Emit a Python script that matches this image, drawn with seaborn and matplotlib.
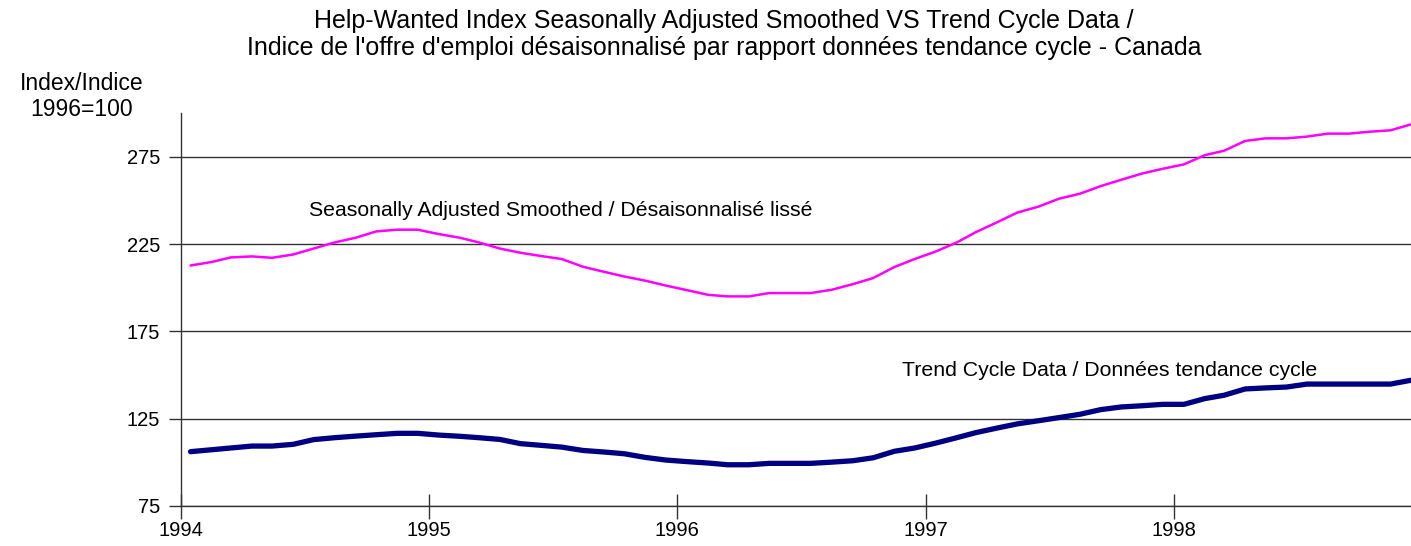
"""
plot.py - Help-Wanted Index, seasonally adjusted smoothed vs trend cycle (Canada).
"""

import pandas as pd
import seaborn as sns
import matplotlib.pyplot as plt

# monthly values, Jan 1994 .. Dec 1998 (index 1996=100)
start_month = "1994-01"
n_months = 60

sa_smoothed = [
    212.7, 214.7, 217.3, 217.9, 217.1, 219.0, 222.4, 225.9, 228.6, 232.2, 233.2, 233.2,
    230.7, 228.6, 225.9, 222.4, 220.0, 218.1, 216.4, 212.0, 209.1, 206.4, 204.0, 201.2,
    198.6, 195.9, 195.0, 195.0, 196.9, 196.9, 196.9, 198.8, 202.0, 205.5, 211.8, 216.4,
    220.7, 225.9, 231.8, 237.4, 243.0, 246.4, 250.9, 253.8, 258.2, 261.8, 265.4, 268.1,
    270.6, 275.9, 278.4, 284.0, 285.5, 285.5, 286.5, 288.2, 288.2, 289.3, 290.1, 293.5,
]

trend_cycle = [
    106.1, 107.2, 108.2, 109.3, 109.3, 110.3, 113.0, 114.1, 115.0, 115.8, 116.6, 116.6,
    115.6, 114.9, 114.1, 113.1, 110.7, 109.7, 108.7, 106.8, 105.9, 104.9, 102.8, 101.3,
    100.4, 99.6, 98.6, 98.6, 99.4, 99.4, 99.4, 100.1, 100.9, 102.6, 106.3, 108.2,
    111.0, 114.1, 117.0, 119.6, 122.0, 123.8, 125.6, 127.5, 130.2, 131.7, 132.4, 133.2,
    133.2, 136.5, 138.4, 142.0, 142.6, 143.1, 144.8, 144.8, 144.8, 144.8, 144.8, 147.0,
]

year_ticks = [1994, 1995, 1996, 1997, 1998]
y_ticks = [75, 125, 175, 225, 275]

title = ("Help-Wanted Index Seasonally Adjusted Smoothed VS Trend Cycle Data /\n"
         "Indice de l'offre d'emploi désaisonnalisé par rapport données tendance cycle - Canada")
y_label = "Index/Indice\n1996=100"
sa_label = "Seasonally Adjusted Smoothed / Désaisonnalisé lissé"
trend_label = "Trend Cycle Data / Données tendance cycle"


def main():
    sns.set_style("white")
    plt.rcParams['font.family'] = ['Liberation Sans', 'DejaVu Sans']
    plt.rcParams['text.color'] = 'black'
    plt.rcParams['xtick.labelcolor'] = 'black'
    plt.rcParams['ytick.labelcolor'] = 'black'

    # points sit in the middle of each month (category-style axis)
    dates = pd.date_range(start_month, periods=n_months, freq="MS") + pd.Timedelta(days=14)
    df = pd.DataFrame({"date": dates, "sa": sa_smoothed, "trend": trend_cycle})

    fig, ax = plt.subplots(figsize=(14.11, 5.46), dpi=100)
    fig.subplots_adjust(left=0.1283, right=1.0, bottom=0.0733, top=0.793)

    sns.lineplot(data=df, x="date", y="sa", color="#FF00FF", linewidth=1.8, ax=ax)
    sns.lineplot(data=df, x="date", y="trend", color="#000080", linewidth=3.8,
                 solid_joinstyle="round", solid_capstyle="round", ax=ax)

    ax.set_xlim(pd.Timestamp(f"{year_ticks[0]}-01-01"), dates[-1])
    ax.set_ylim(75, 300)
    ax.set_xticks([pd.Timestamp(f"{y}-01-01") for y in year_ticks])
    ax.set_xticklabels([str(y) for y in year_ticks])
    ax.set_yticks(y_ticks)
    ax.set_xlabel("")
    ax.set_ylabel("")

    ax.yaxis.grid(True, color="#333333", linewidth=1.0)
    ax.xaxis.grid(False)
    for side in ["top", "right"]:
        ax.spines[side].set_visible(False)
    for side in ["left", "bottom"]:
        ax.spines[side].set_color("#333333")
        ax.spines[side].set_linewidth(1.0)

    ax.tick_params(axis="x", direction="inout", length=18, width=1, color="#333333",
                   labelsize=14.5, pad=2, bottom=True)
    ax.tick_params(axis="y", direction="out", length=9, width=1, color="#333333",
                   labelsize=14.5, pad=6, left=True)

    ax.text(0.104, 0.753, sa_label, transform=ax.transAxes, fontsize=15.3,
            va="center", ha="left")
    ax.text(0.586, 0.344, trend_label, transform=ax.transAxes, fontsize=15.3,
            va="center", ha="left")

    fig.text(0.513, 0.937, title, ha="center", va="center", fontsize=18,
             linespacing=1.12)
    fig.text(0.058, 0.823, y_label, ha="center", va="center", fontsize=16.5,
             linespacing=1.15)

    fig.savefig("out.png", dpi=100)


if __name__ == "__main__":
    main()
